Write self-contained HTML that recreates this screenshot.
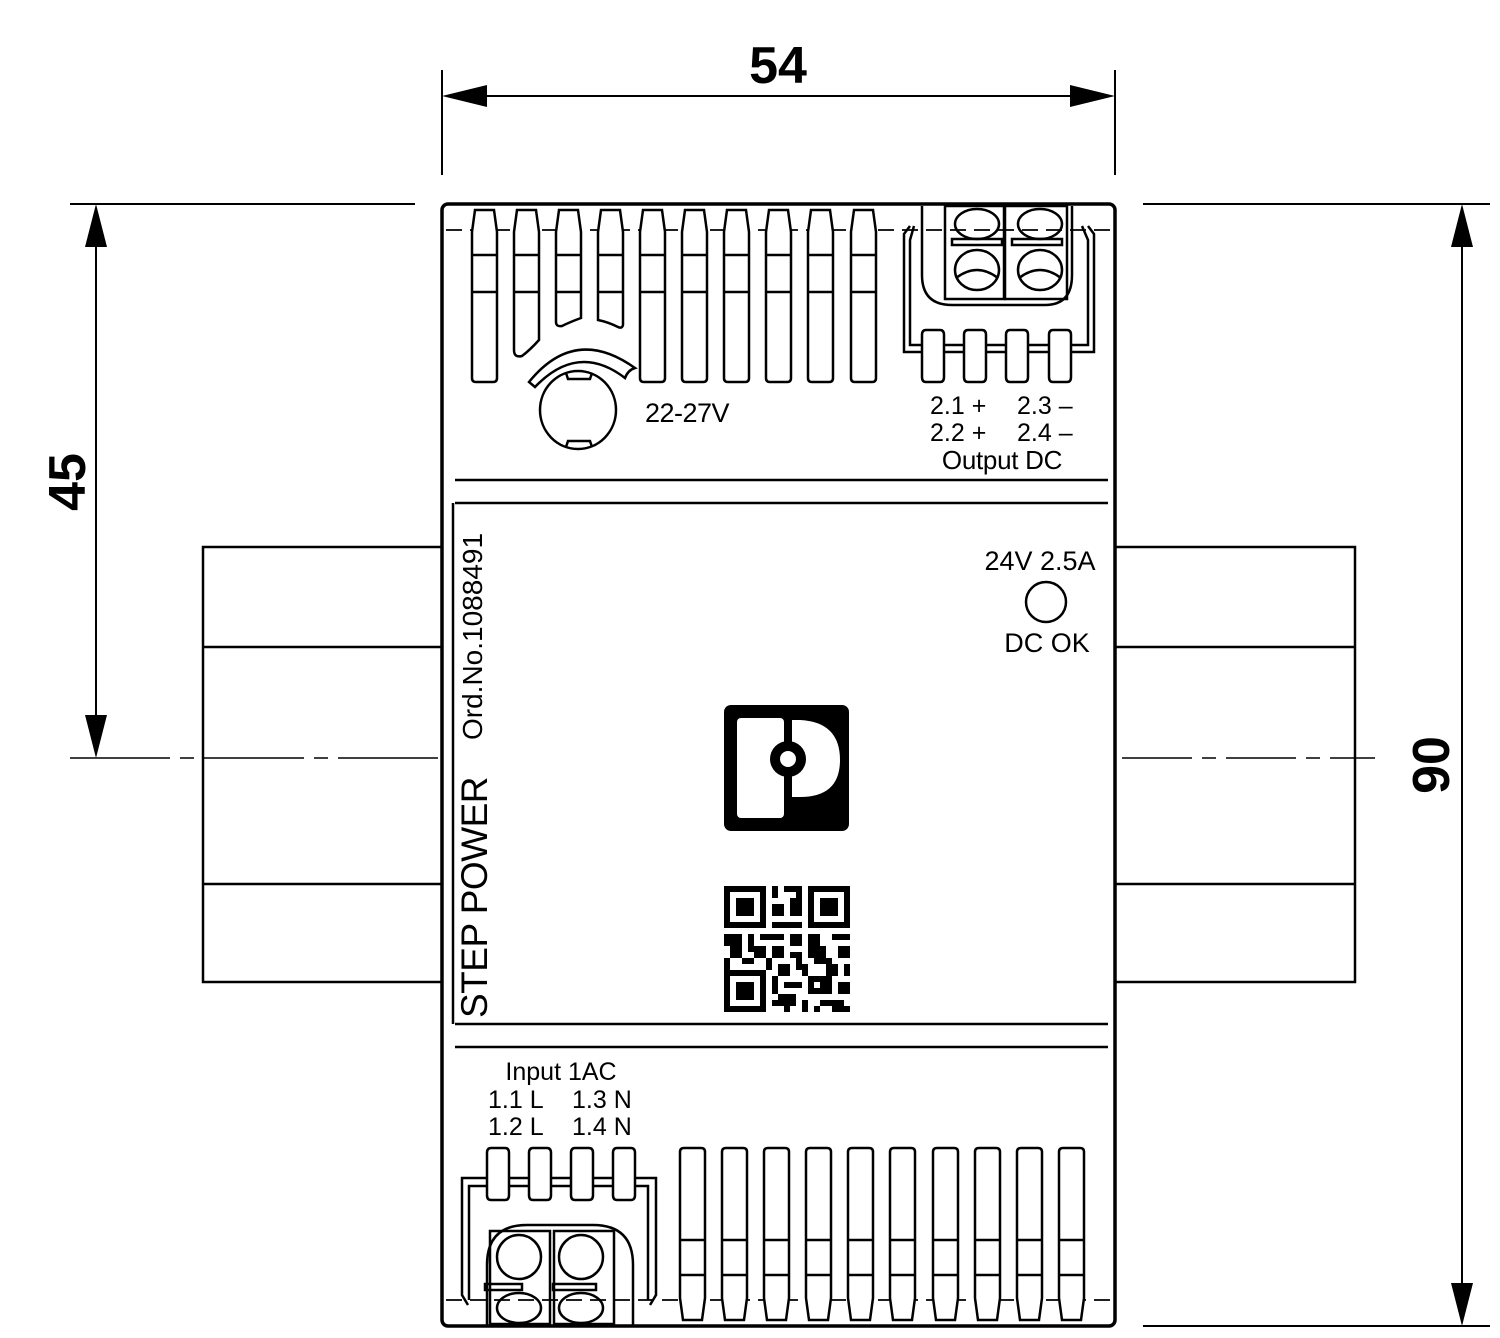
<!DOCTYPE html>
<html><head><meta charset="utf-8"><style>html,body{margin:0;padding:0;background:#fff}svg{display:block}text{font-family:"Liberation Sans",sans-serif;fill:#000}</style></head>
<body>
<svg width="1500" height="1338" viewBox="0 0 1500 1338" xmlns="http://www.w3.org/2000/svg">
<defs>
<path id="tf" d="M3,210 L22,210 L25,232 L25,378 Q25,382 21,382 L4,382 Q0,382 0,378 L0,232 Z"/>
<path id="bf" d="M4,1148 L21,1148 Q25,1148 25,1152 L25,1298 L22,1320 L3,1320 L0,1298 L0,1152 Q0,1148 4,1148 Z"/>
<path id="tab" d="M4,0 L18,0 Q22,0 22,5 L22,47 Q22,52 18,52 L4,52 Q0,52 0,47 L0,5 Q0,0 4,0 Z"/>
</defs>
<g fill="none" stroke="#000" stroke-width="2.5">
<rect x="203" y="547" width="239" height="435"/>
<line x1="203" y1="647" x2="442" y2="647"/><line x1="203" y1="884" x2="442" y2="884"/>
<rect x="1115" y="547" width="240" height="435"/>
<line x1="1115" y1="647" x2="1355" y2="647"/><line x1="1115" y1="884" x2="1355" y2="884"/>
</g>
<g fill="none" stroke="#000" stroke-width="2">
<line x1="442" y1="70" x2="442" y2="175"/><line x1="1115" y1="70" x2="1115" y2="175"/>
<line x1="485" y1="96" x2="1072" y2="96"/>
<line x1="70" y1="204" x2="415" y2="204"/>
<line x1="96" y1="245" x2="96" y2="717"/>
<line x1="70" y1="758" x2="440" y2="758" stroke-dasharray="100,10,14,10" stroke-width="1.5"/>
<line x1="1122" y1="758" x2="1375" y2="758" stroke-dasharray="70,10,14,10" stroke-width="1.5"/>
<line x1="1143" y1="204" x2="1490" y2="204"/><line x1="1143" y1="1326" x2="1490" y2="1326"/>
<line x1="1462" y1="245" x2="1462" y2="1285"/>
</g>
<g fill="#000">
<polygon points="442,96 487,85 487,107"/><polygon points="1115,96 1070,85 1070,107"/>
<polygon points="96,204 85,247 107,247"/><polygon points="96,758 85,715 107,715"/>
<polygon points="1462,204 1451,247 1473,247"/><polygon points="1462,1326 1451,1283 1473,1283"/>
</g>
<text x="778" y="83" font-size="52" font-weight="bold" text-anchor="middle">54</text>
<text transform="translate(85,482) rotate(-90)" font-size="52" font-weight="bold" text-anchor="middle">45</text>
<text transform="translate(1449,765) rotate(-90)" font-size="52" font-weight="bold" text-anchor="middle">90</text>
<rect x="442" y="204" width="673" height="1122" rx="6" fill="#fff" stroke="#000" stroke-width="3.5"/>
<g stroke="#000" stroke-width="2.5" fill="none">
<line x1="455" y1="480" x2="1108" y2="480"/><line x1="455" y1="503" x2="1108" y2="503"/>
<line x1="455" y1="1024" x2="1108" y2="1024"/><line x1="455" y1="1047" x2="1108" y2="1047"/>
<line x1="453" y1="503" x2="453" y2="1024"/>
<line x1="446" y1="230" x2="1112" y2="230" stroke-dasharray="16,8" stroke-width="1.8"/>
<line x1="446" y1="1300" x2="1112" y2="1300" stroke-dasharray="16,8" stroke-width="1.8"/>
</g>
<g fill="#fff" stroke="#000" stroke-width="2.5">
<use href="#tf" x="472"/>
<path d="M517,210 L536,210 L539,232 L539,340 Q530,350 522,356 Q514,358 514,350 L514,232 Z"/>
<path d="M559,210 L578,210 L581,232 L581,318 Q570,322 562,326 Q556,327 556,322 L556,232 Z"/>
<path d="M601,210 L620,210 L623,232 L623,325 Q622,329 618,327 Q608,322 598,320 L598,232 Z"/>
<use href="#tf" x="640"/><use href="#tf" x="682"/><use href="#tf" x="724"/><use href="#tf" x="766"/><use href="#tf" x="808"/><use href="#tf" x="851"/>
</g>
<g stroke="#000" stroke-width="2.5">
<line x1="472" y1="255" x2="876" y2="255" stroke-dasharray="25,17.1"/>
<line x1="472" y1="292" x2="876" y2="292" stroke-dasharray="25,17.1"/>
</g>
<g fill="none" stroke="#000" stroke-width="2.5">
<path d="M529,382 Q575,325 635,368 Q628,370 625,378 Q578,342 535,387 Z" fill="#fff"/>
<ellipse cx="578" cy="410" rx="38" ry="39"/>
<path d="M566,373 L568,379 L590,379 L592,373"/><path d="M566,447 L568,441 L590,441 L592,447"/>
</g>
<text x="645" y="422" font-size="27" letter-spacing="-0.5">22-27V</text>
<g fill="none" stroke="#000" stroke-width="2.5">
<path d="M922,206 L922,275 Q922,305 952,305 L1045,305 Q1072,305 1072,275 L1072,206"/>
<rect x="945" y="206" width="59" height="93"/><rect x="1005" y="206" width="62" height="93"/>
<ellipse cx="977" cy="224" rx="22" ry="15"/><ellipse cx="977" cy="270" rx="22" ry="20"/>
<path d="M956,278 Q977,262 998,278"/>
<ellipse cx="1040" cy="224" rx="22" ry="15"/><ellipse cx="1040" cy="270" rx="22" ry="20"/>
<path d="M1019,278 Q1040,262 1061,278"/>
<rect x="952" y="239" width="50" height="6"/><rect x="1012" y="239" width="50" height="6"/>
<path d="M910,226 L904,234 L904,352 L922,352"/><path d="M914,226 L910,240 L910,345 L922,345"/>
<path d="M1088,226 L1094,234 L1094,352 L1072,352"/><path d="M1082,226 L1088,240 L1088,345 L1072,345"/>
<line x1="944" y1="345" x2="964" y2="345"/><line x1="944" y1="352" x2="964" y2="352"/>
<line x1="986" y1="345" x2="1006" y2="345"/><line x1="986" y1="352" x2="1006" y2="352"/>
<line x1="1028" y1="345" x2="1049" y2="345"/><line x1="1028" y1="352" x2="1049" y2="352"/>
</g>
<g fill="#fff" stroke="#000" stroke-width="2.5">
<use href="#tab" x="922" y="330"/><use href="#tab" x="964" y="330"/><use href="#tab" x="1006" y="330"/><use href="#tab" x="1049" y="330"/>
</g>
<text x="930" y="414" font-size="25">2.1 +</text><text x="1017" y="414" font-size="25">2.3 –</text>
<text x="930" y="441" font-size="25">2.2 +</text><text x="1017" y="441" font-size="25">2.4 –</text>
<text x="1002" y="469" font-size="26" text-anchor="middle" letter-spacing="-0.3">Output DC</text>
<text transform="translate(487,1018) rotate(-90)" font-size="37" letter-spacing="-0.5">STEP POWER</text>
<text transform="translate(482,740) rotate(-90)" font-size="28">Ord.No.1088491</text>
<text x="1040" y="570" font-size="27" text-anchor="middle">24V 2.5A</text>
<circle cx="1046" cy="602" r="20" fill="none" stroke="#000" stroke-width="2.5"/>
<text x="1047" y="652" font-size="27" text-anchor="middle">DC OK</text>
<rect x="724" y="705" width="125" height="126" rx="7" fill="#000"/>
<rect x="737" y="718" width="47" height="100" rx="4" fill="#fff"/>
<path d="M792,720 L800,720 Q840,722 840,760 Q840,797 800,797 L792,797 Z" fill="#fff"/>
<circle cx="788" cy="759" r="18" fill="#000"/>
<circle cx="788" cy="759" r="8" fill="#fff"/>
<g fill="#000">
<path fill-rule="evenodd" d="M724,886h42v42h-42z M730,892v30h30v-30z M736,898h18v18h-18z"/>
<path fill-rule="evenodd" d="M808,886h42v42h-42z M814,892v30h30v-30z M820,898h18v18h-18z"/>
<path fill-rule="evenodd" d="M724,970h42v42h-42z M730,976v30h30v-30z M736,982h18v18h-18z"/>
<rect x="772" y="886" width="6" height="12"/><rect x="784" y="886" width="12" height="6"/><rect x="790" y="898" width="12" height="18"/><rect x="772" y="904" width="12" height="12"/><rect x="778" y="922" width="24" height="6"/><rect x="796" y="886" width="6" height="12"/><rect x="772" y="922" width="6" height="6"/>
<rect x="724" y="934" width="18" height="12"/><rect x="748" y="934" width="6" height="18"/><rect x="760" y="934" width="24" height="6"/><rect x="790" y="934" width="12" height="12"/><rect x="808" y="934" width="12" height="12"/><rect x="832" y="934" width="18" height="6"/>
<rect x="730" y="946" width="12" height="12"/><rect x="754" y="946" width="12" height="12"/><rect x="772" y="946" width="12" height="12"/><rect x="808" y="946" width="18" height="12"/><rect x="838" y="946" width="12" height="12"/><rect x="790" y="952" width="12" height="6"/>
<rect x="724" y="958" width="6" height="12"/><rect x="742" y="958" width="12" height="6"/><rect x="766" y="958" width="6" height="12"/><rect x="796" y="958" width="6" height="12"/><rect x="814" y="958" width="18" height="6"/>
<rect x="778" y="964" width="12" height="12"/><rect x="802" y="964" width="6" height="12"/><rect x="826" y="964" width="12" height="12"/><rect x="844" y="964" width="6" height="12"/>
<rect x="772" y="976" width="6" height="18"/><rect x="784" y="982" width="18" height="6"/><rect x="808" y="976" width="24" height="18"/><rect x="838" y="982" width="12" height="12"/>
<rect x="778" y="994" width="18" height="6"/><rect x="772" y="1000" width="24" height="6"/><rect x="802" y="1000" width="6" height="12"/><rect x="820" y="1000" width="24" height="6"/><rect x="832" y="1006" width="18" height="6"/><rect x="784" y="1006" width="6" height="6"/><rect x="814" y="1006" width="6" height="6"/>
</g>
<rect x="814" y="982" width="6" height="6" fill="#fff"/>
<text x="561" y="1080" font-size="25" text-anchor="middle">Input 1AC</text>
<text x="488" y="1108" font-size="25">1.1 L</text><text x="572" y="1108" font-size="25">1.3 N</text>
<text x="488" y="1135" font-size="25">1.2 L</text><text x="572" y="1135" font-size="25">1.4 N</text>
<g fill="none" stroke="#000" stroke-width="2.5">
<path d="M487,1326 L487,1265 Q487,1225 527,1225 L593,1225 Q633,1225 633,1265 L633,1326"/>
<rect x="490" y="1231" width="60" height="93"/><rect x="554" y="1231" width="60" height="93"/>
<ellipse cx="519" cy="1257" rx="22" ry="22"/><ellipse cx="519" cy="1308" rx="22" ry="15"/>
<ellipse cx="581" cy="1257" rx="22" ry="22"/><ellipse cx="581" cy="1308" rx="22" ry="15"/>
<rect x="485" y="1284" width="37" height="6"/><rect x="553" y="1284" width="43" height="6"/>
<path d="M487,1178 L462,1178 L462,1295 L468,1305"/><path d="M487,1186 L469,1186 L469,1300"/>
<path d="M635,1178 L656,1178 L656,1295 L650,1305"/><path d="M635,1186 L648,1186 L648,1300"/>
<line x1="509" y1="1178" x2="529" y2="1178"/><line x1="509" y1="1186" x2="529" y2="1186"/>
<line x1="551" y1="1178" x2="571" y2="1178"/><line x1="551" y1="1186" x2="571" y2="1186"/>
<line x1="593" y1="1178" x2="613" y2="1178"/><line x1="593" y1="1186" x2="613" y2="1186"/>
</g>
<g fill="#fff" stroke="#000" stroke-width="2.5">
<use href="#tab" x="487" y="1148"/><use href="#tab" x="529" y="1148"/><use href="#tab" x="571" y="1148"/><use href="#tab" x="613" y="1148"/>
<use href="#bf" x="680"/><use href="#bf" x="722"/><use href="#bf" x="764"/><use href="#bf" x="806"/><use href="#bf" x="848"/><use href="#bf" x="890"/><use href="#bf" x="933"/><use href="#bf" x="975"/><use href="#bf" x="1017"/><use href="#bf" x="1059"/>
</g>
<g stroke="#000" stroke-width="2.5">
<line x1="680" y1="1240" x2="1084" y2="1240" stroke-dasharray="25,17"/>
<line x1="680" y1="1275" x2="1084" y2="1275" stroke-dasharray="25,17"/>
</g>
</svg>
</body></html>
